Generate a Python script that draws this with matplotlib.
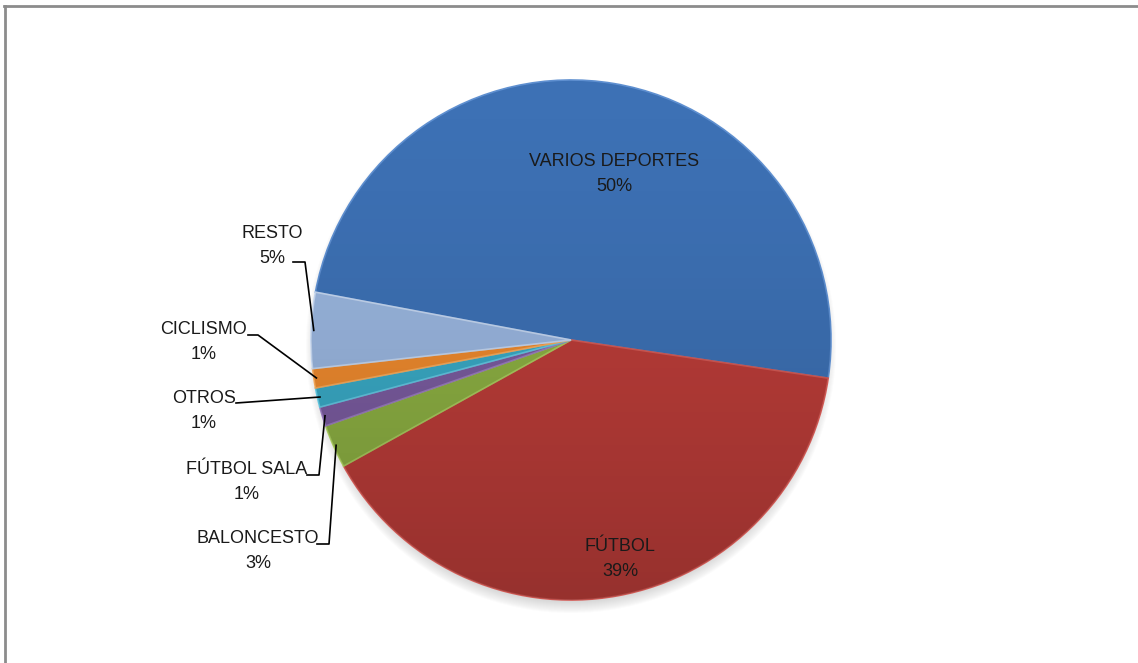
import numpy as np
import matplotlib
matplotlib.use("Agg")
import matplotlib.pyplot as plt
from matplotlib.patches import Ellipse, Circle

plt.rcParams['font.family'] = ['Liberation Sans', 'DejaVu Sans']

# Data (clockwise order, starting at the left edge of VARIOS DEPORTES)
sports = ["VARIOS DEPORTES", "FÚTBOL", "BALONCESTO", "FÚTBOL SALA", "OTROS", "CICLISMO", "RESTO"]
shares = [49.4, 39.6, 2.7, 1.2, 1.2, 1.2, 4.7]
pct_labels = ["50%", "39%", "3%", "1%", "1%", "1%", "5%"]
colors = ["#3D71B5", "#BC3D39", "#8DB043", "#7B5CA0", "#3AAAC6", "#EE8A2E", "#9AB6DF"]
edge_colors = ["#5E8FD0", "#D45A55", "#A9CC5E", "#9A7CC0", "#62C8E2", "#F8AA5A", "#C4D6F0"]

W, H = 1138, 663
cx, cy, R = 571, H - 340, 260

fig = plt.figure(figsize=(W / 100, H / 100), dpi=100)
ax = fig.add_axes([0, 0, 1, 1])

# soft shadow under the pie
for i in range(12):
    ax.add_patch(Ellipse((cx, cy - 6), 2 * R + 10 - i * 2, 2 * R + 14 - i * 2,
                         color="#777777", alpha=0.025, lw=0, zorder=1))

wedges, _ = ax.pie(shares, colors=colors, startangle=169.4, counterclock=False,
                   center=(cx, cy), radius=R, frame=True,
                   wedgeprops=dict(linewidth=1.2))
for w, ec in zip(wedges, edge_colors):
    w.set_edgecolor(ec)
    w.set_zorder(2)

# vertical shading over the pie (darker towards the bottom)
grad = np.linspace(0, 1, 256).reshape(-1, 1)
rgba = np.zeros((256, 1, 4))
rgba[..., 3] = 0.2 * grad ** 1.5
img = ax.imshow(rgba, extent=(cx - R, cx + R, cy - R, cy + R), origin="upper",
                aspect="auto", zorder=3, interpolation="bilinear")
img.set_clip_path(Circle((cx, cy), R, transform=ax.transData))

ax.set_xlim(0, W)
ax.set_ylim(0, H)
ax.set_aspect("auto")
ax.axis("off")

fs = 13
txt = dict(fontsize=fs, color="#1a1a1a", ha="center", va="center", zorder=5)

# labels inside the two big slices
inside_pos = {0: (614, 174), 1: (620, 559)}
for i, (x, y) in inside_pos.items():
    ax.text(x, H - y, sports[i] + "\n" + pct_labels[i], linespacing=1.6, **txt)


def edge_point(w, r_frac=0.99):
    ang = np.deg2rad((w.theta1 + w.theta2) / 2)
    return cx + R * r_frac * np.cos(ang), cy + R * r_frac * np.sin(ang)


# outside labels: (text center, elbow start, elbow corner)
outside = {
    6: ((272, 246), (293, 262), (305, 262)),
    5: ((204, 342), (248, 335), (258, 335)),
    4: ((204, 411), (236, 403), (236, 403)),
    3: ((247, 482), (307, 475), (319, 475)),
    2: ((258, 551), (317, 544), (329, 544)),
}
for i, ((tx, ty), (sx, sy), (kx, ky)) in outside.items():
    ax.text(tx, H - ty, sports[i] + "\n" + pct_labels[i], linespacing=1.6, **txt)
    ex, ey = edge_point(wedges[i])
    ax.plot([sx, kx, ex], [H - sy, H - ky, ey], color="black", lw=1.2, zorder=4)

# frame lines (top and left)
ax.plot([4, W], [H - 6, H - 6], color="#8C8C8C", lw=2, zorder=6)
ax.plot([5, 5], [H - 6, 0], color="#8C8C8C", lw=2, zorder=6)

fig.savefig("out.png", dpi=100)
